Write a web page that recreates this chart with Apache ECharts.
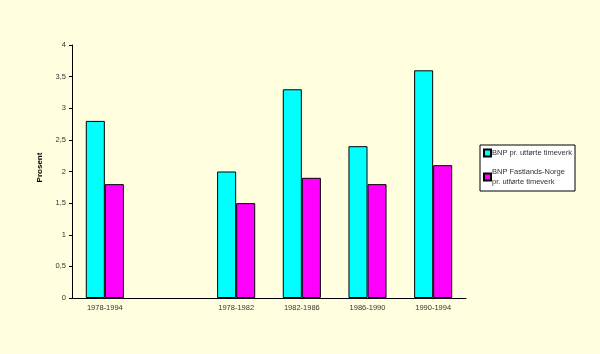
<!DOCTYPE html>
<html>
<head>
<meta charset="utf-8">
<script src="https://cdn.jsdelivr.net/npm/echarts@6/dist/echarts.min.js"></script>
<style>
  html, body { margin: 0; padding: 0; background: #FFFFE0; }
  #main { width: 600px; height: 354px; }
</style>
</head>
<body>
<div id="main"></div>
<script>
// data
var categories = ['1978-1994', '', '1978-1982', '1982-1986', '1986-1990', '1990-1994'];
var bnpTimeverk = [2.8, null, 2.0, 3.3, 2.4, 3.6];
var fastlandTimeverk = [1.8, null, 1.5, 1.9, 1.8, 2.1];
var seriesNames = ['BNP pr. utførte timeverk', 'BNP Fastlands-Norge pr. utførte timeverk'];

var myChart = echarts.init(document.getElementById('main'));
myChart.setOption({
    animation: false,
    backgroundColor: '#FFFFE0',
    textStyle: { fontFamily: 'Liberation Sans, Arial, sans-serif' },
    legend: {
        orient: 'vertical',
        left: 480,
        top: 145,
        padding: [3, 3, 4, 3],
        itemGap: 9,
        itemWidth: 7,
        itemHeight: 7,
        icon: 'rect',
        backgroundColor: '#FFFFFF',
        borderColor: '#000',
        borderWidth: 1,
        selectedMode: false,
        textStyle: { fontSize: 7.5, color: '#333', padding: [0, 0, 0, -4], lineHeight: 10 },
        formatter: function (name) {
            return name === seriesNames[1] ? 'BNP Fastlands-Norge\npr. utførte timeverk' : name;
        },
        data: seriesNames
    },
    grid: { left: 72, right: 134, top: 45, bottom: 56 },
    xAxis: {
        type: 'category',
        data: categories,
        axisLine: { lineStyle: { color: '#000', width: 1 } },
        axisTick: { length: 4, lineStyle: { color: '#000' } },
        axisLabel: { fontSize: 7.5, color: '#333', margin: 6 }
    },
    yAxis: {
        type: 'value',
        min: 0,
        max: 4,
        interval: 0.5,
        name: 'Prosent',
        nameLocation: 'middle',
        nameGap: 28,
        nameMoveOverlap: false,
        nameTextStyle: { fontSize: 8, fontWeight: 'bold', color: '#000', padding: [0, 0, 0, 8] },
        axisLine: { show: true, lineStyle: { color: '#000', width: 1 } },
        axisTick: { show: true, length: 3, lineStyle: { color: '#000' } },
        splitLine: { show: false },
        axisLabel: {
            fontSize: 7.5,
            color: '#333',
            margin: 6,
            formatter: function (v) { return String(v).replace('.', ','); }
        }
    },
    series: [
        {
            name: seriesNames[0],
            type: 'bar',
            barGap: '0%',
            barCategoryGap: '42%',
            itemStyle: { color: '#00FFFF', borderColor: '#000', borderWidth: 1 },
            data: bnpTimeverk
        },
        {
            name: seriesNames[1],
            type: 'bar',
            itemStyle: { color: '#FF00FF', borderColor: '#000', borderWidth: 1 },
            data: fastlandTimeverk
        }
    ]
});
</script>
</body>
</html>
